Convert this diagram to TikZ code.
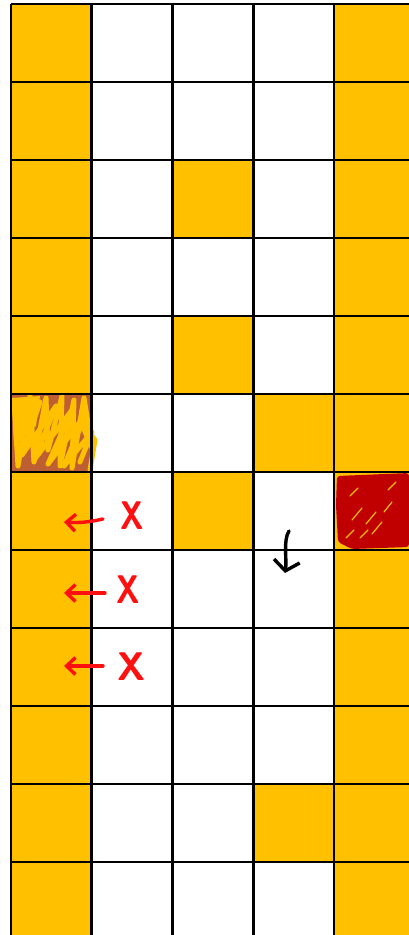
\documentclass[tikz,border=0pt]{standalone}
\usetikzlibrary{arrows.meta,calc,positioning}
\definecolor{Gold}{HTML}{FFC000}
\definecolor{Rust}{HTML}{BE5F33}
\definecolor{Crimson}{HTML}{C00000}
\definecolor{Mark}{HTML}{FF1010}

\begin{document}
\begin{tikzpicture}[x=1pt,y=-1pt,
        cell/.style={fill=Gold},
        gridline/.style={black,line width=2.6pt},
        hint/.style={-{Straight Barb[length=9pt,width=17pt]},Mark,line width=3.4pt,line cap=round},
        cross/.style={text=Mark,font=\sffamily\bfseries\fontsize{40}{40}\selectfont,inner sep=0pt,xscale=0.8},
        scrib/.style={Gold,line width=5pt,line cap=round,line join=round}]
      \useasboundingbox (0,0) rectangle (409,935);
      \clip (0,0) rectangle (409,935);
      % gold cells
      \foreach \r in {0,...,11}{
        \fill[cell] (11,{4+78*\r}) rectangle +(80.75,78);
        \fill[cell] (334,{4+78*\r}) rectangle +(80.75,78);
      }
      \foreach \c/\r in {2/2,2/4,2/6,3/5,3/10}
        \fill[cell] ({11+80.75*\c},{4+78*\r}) rectangle +(80.75,78);
      % scribbled start cell
      \fill[Rust] (11,394) rectangle (91.75,471);
      \draw[scrib] (14,400) -- (18,466) -- (30,396) -- (34,462) -- (46,398) -- (48,450)
        -- (62,396) -- (60,466) -- (74,400) -- (72,468) -- (84,398) -- (92,448) -- (80,420)
        -- (95,440) -- (90,470);
      \draw[scrib] (16,430) -- (40,402) -- (22,455) -- (56,406) -- (34,460) -- (72,410)
        -- (48,464) -- (86,414) -- (64,466) -- (92,432) -- (80,462);
      \fill[Gold] (12,398) -- (40,396) -- (36,426) -- (14,446) -- cycle;
      % scribbled goal cell
      \fill[Crimson,rounded corners=3pt] (337,476) -- (409,473) -- (409,547) -- (352,549)
        -- (338,542) -- (336,505) -- cycle;
      \draw[Gold,line width=1.2pt,line cap=round]
        (352,520) -- (362,508) (366,524) -- (376,512) (346,538) -- (354,530)
        (372,534) -- (382,522) (350,496) -- (358,488) (384,512) -- (392,502)
        (360,538) -- (368,530) (388,490) -- (396,482);
      % grid
      \foreach \c in {0,...,4}
        \draw[gridline] ({11+80.75*\c},4) -- ({11+80.75*\c},940);
      \foreach \r in {0,...,12}
        \draw[gridline] (11,{4+78*\r}) -- (416,{4+78*\r});
      % blocked moves
      \node[cross] (x1) at (132,516) {X};
      \node[cross] (x2) at (128,590) {X};
      \node[cross,xscale=1.2] (x3) at (132,667) {X};
      \coordinate (t1) at (103,519);
      \coordinate (h1) at (64,522);
      \coordinate (t2) at (105,593);
      \coordinate (h2) at (64,593);
      \coordinate (t3) at (103,666);
      \coordinate (h3) at (64,666);
      \draw[hint] (t1) to[bend left=8] (h1);
      \draw[hint] (t2) -- (h2);
      \draw[hint] (t3) -- (h3);
      % agent move
      \coordinate (m0) at (289,531);
      \coordinate (m1) at (285,573);
      \draw[black,line width=3.4pt,line cap=round,-{Straight Barb[length=10pt,width=26pt]}]
        (m0) .. controls (283,540) and (287,560) .. (m1);
    \end{tikzpicture}
\end{document}
